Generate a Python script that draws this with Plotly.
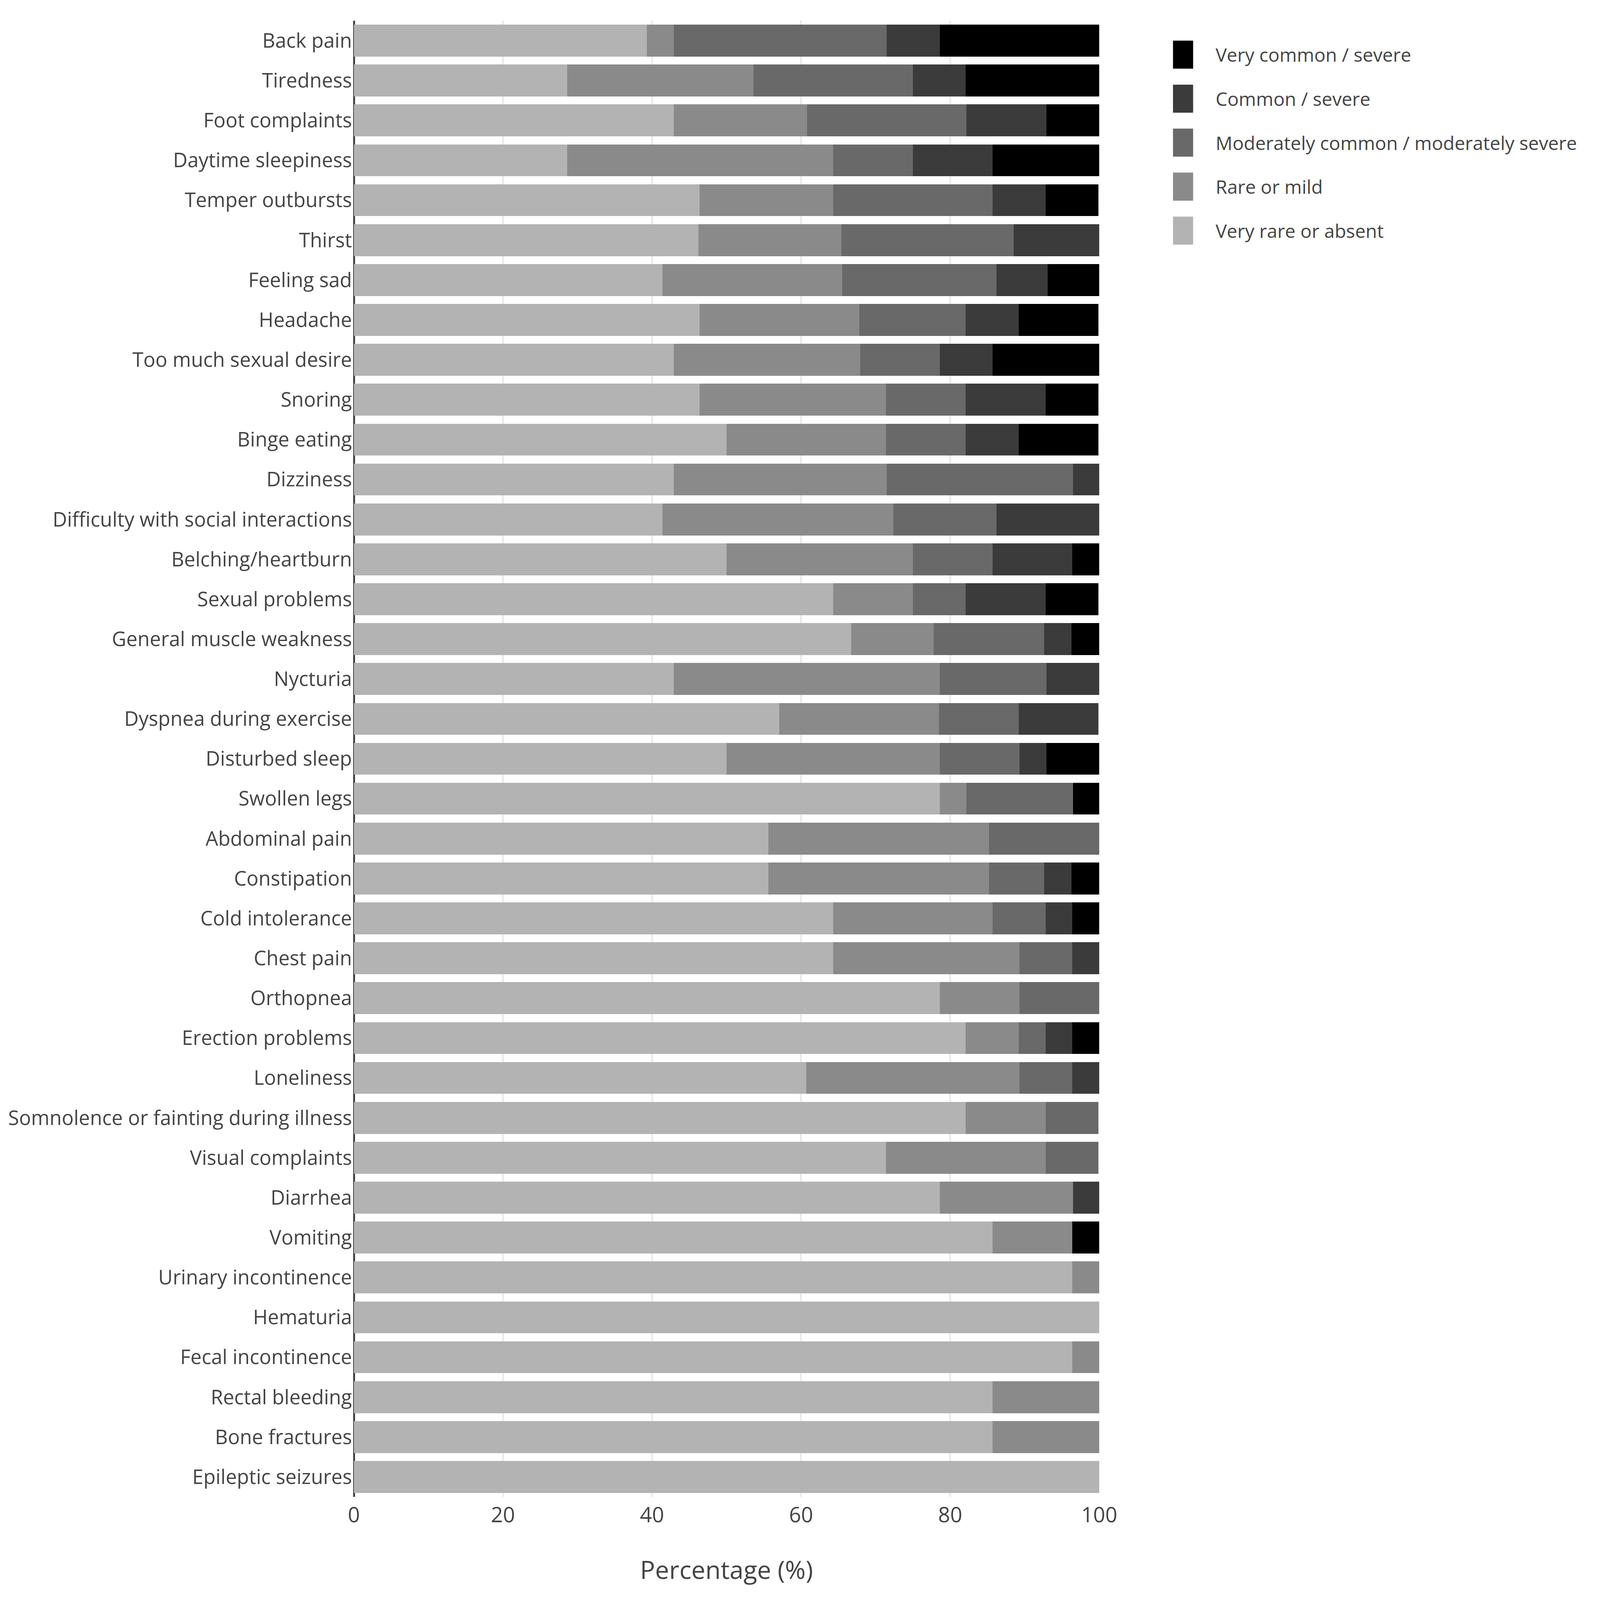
import plotly.graph_objects as go

# ============================================================================
# DATA (percent of respondents per symptom, top row first)
# ============================================================================

symptoms = [
    "Back pain", "Tiredness", "Foot complaints", "Daytime sleepiness",
    "Temper outbursts", "Thirst", "Feeling sad", "Headache",
    "Too much sexual desire", "Snoring", "Binge eating", "Dizziness",
    "Difficulty with social interactions", "Belching/heartburn",
    "Sexual problems", "General muscle weakness", "Nycturia",
    "Dyspnea during exercise", "Disturbed sleep", "Swollen legs",
    "Abdominal pain", "Constipation", "Cold intolerance", "Chest pain",
    "Orthopnea", "Erection problems", "Loneliness",
    "Somnolence or fainting during illness", "Visual complaints",
    "Diarrhea", "Vomiting", "Urinary incontinence", "Hematuria",
    "Fecal incontinence", "Rectal bleeding", "Bone fractures",
    "Epileptic seizures",
]

very_rare = [39.3, 28.6, 42.9, 28.6, 46.4, 46.2, 41.4, 46.4, 42.9, 46.4,
             50.0, 42.9, 41.4, 50.0, 64.3, 66.7, 42.9, 57.1, 50.0, 78.6,
             55.6, 55.6, 64.3, 64.3, 78.6, 82.1, 60.7, 82.1, 71.4, 78.6,
             85.7, 96.4, 100.0, 96.4, 85.7, 85.7, 100.0]

rare = [3.6, 25.0, 17.9, 35.7, 17.9, 19.2, 24.1, 21.4, 25.0, 25.0,
        21.4, 28.6, 31.0, 25.0, 10.7, 11.1, 35.7, 21.4, 28.6, 3.6,
        29.6, 29.6, 21.4, 25.0, 10.7, 7.1, 28.6, 10.7, 21.4, 17.9,
        10.7, 3.6, 0.0, 3.6, 14.3, 14.3, 0.0]

moderate = [28.6, 21.4, 21.4, 10.7, 21.4, 23.1, 20.7, 14.3, 10.7, 10.7,
            10.7, 25.0, 13.8, 10.7, 7.1, 14.8, 14.3, 10.7, 10.7, 14.3,
            14.8, 7.4, 7.1, 7.1, 10.7, 3.6, 7.1, 7.1, 7.1, 0.0,
            0.0, 0.0, 0.0, 0.0, 0.0, 0.0, 0.0]

common = [7.1, 7.1, 10.7, 10.7, 7.1, 11.5, 6.9, 7.1, 7.1, 10.7,
          7.1, 3.6, 13.8, 10.7, 10.7, 3.7, 7.1, 10.7, 3.6, 0.0,
          0.0, 3.7, 3.6, 3.6, 0.0, 3.6, 3.6, 0.0, 0.0, 3.6,
          0.0, 0.0, 0.0, 0.0, 0.0, 0.0, 0.0]

very_common = [21.4, 17.9, 7.1, 14.3, 7.1, 0.0, 6.9, 10.7, 14.3, 7.1,
               10.7, 0.0, 0.0, 3.6, 7.1, 3.7, 0.0, 0.0, 7.1, 3.6,
               0.0, 3.7, 3.6, 0.0, 0.0, 3.6, 0.0, 0.0, 0.0, 0.0,
               3.6, 0.0, 0.0, 0.0, 0.0, 0.0, 0.0]

levels = [
    "Very rare or absent",
    "Rare or mild",
    "Moderately common / moderately severe",
    "Common / severe",
    "Very common / severe",
]
level_values = [very_rare, rare, moderate, common, very_common]
level_colors = ["#b3b3b3", "#8a8a8a", "#696969", "#3b3b3b", "#000000"]

x_ticks = [0, 20, 40, 60, 80, 100]

# ============================================================================
# FIGURE
# ============================================================================

# the browser window here is capped at 4096 x 4096
W, H = 4096, 4096
FONT = "Open Sans, verdana, arial, sans-serif"
TEXT = "#444444"

fig = go.Figure()

for name, vals, color in zip(levels, level_values, level_colors):
    fig.add_trace(go.Bar(
        name=name,
        x=vals,
        y=symptoms,
        orientation="h",
        marker=dict(color=color, line=dict(width=0)),
        showlegend=False
    ))

# hand-built legend (native bar swatches can't be scaled to this size)
shapes = []
annotations = []
for i, (name, color) in enumerate(zip(levels[::-1], level_colors[::-1])):
    yc = 0.977 - i * 0.0298
    shapes.append(dict(
        type="rect", xref="paper", yref="paper",
        x0=1.099, x1=1.126, y0=yc - 0.0095, y1=yc + 0.0095,
        fillcolor=color, line=dict(width=0)
    ))
    annotations.append(dict(
        xref="paper", yref="paper", x=1.155, y=yc,
        xanchor="left", yanchor="middle", showarrow=False,
        text=name, font=dict(family=FONT, size=48, color=TEXT)
    ))

fig.update_layout(
    width=W,
    height=H,
    autosize=False,
    barmode="stack",
    bargap=0.2,
    showlegend=False,
    paper_bgcolor="white",
    plot_bgcolor="white",
    font=dict(family=FONT, size=51, color=TEXT),
    margin=dict(l=898, r=1290, t=45, b=272, pad=0),
    shapes=shapes,
    annotations=annotations,
    xaxis=dict(
        range=[0, 100],
        tickvals=x_ticks,
        showgrid=True,
        gridcolor="#ebebeb",
        gridwidth=5,
        zeroline=True,
        zerolinecolor=TEXT,
        zerolinewidth=5,
        showline=False,
        ticks="",
        ticklabelstandoff=10,
        tickfont=dict(size=54),
        title=dict(text="Percentage (%)", font=dict(size=64), standoff=85)
    ),
    yaxis=dict(
        categoryorder="array",
        categoryarray=symptoms,
        autorange="reversed",
        showgrid=False,
        zeroline=False,
        showline=False,
        ticks="",
        ticklabelstandoff=4,
        tickfont=dict(size=51)
    )
)

fig.write_html("out.html")
